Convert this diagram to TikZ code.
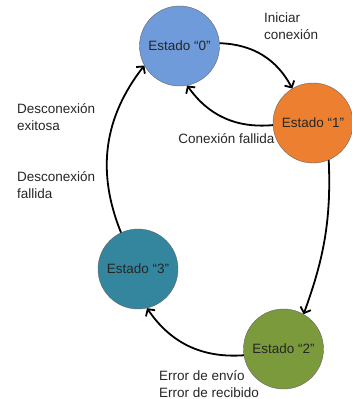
\documentclass[tikz,border=0pt]{standalone}
\usepackage{fontspec}
\setmainfont{Liberation Sans}
\usetikzlibrary{arrows.meta}

\definecolor{azul}{RGB}{111,155,218}
\definecolor{naranja}{RGB}{237,128,48}
\definecolor{verde}{RGB}{122,154,60}
\definecolor{turquesa}{RGB}{51,134,158}

\begin{document}
\begin{tikzpicture}[x=1pt,y=-1pt,
        estado/.style={circle,draw=black!60,minimum size=80pt,inner sep=0pt,
            font=\fontsize{13.5}{16}\selectfont,text=black!85},
        etiqueta/.style={align=left,inner sep=0pt,
            font=\fontsize{13.5}{17}\selectfont,text=black!85},
        flecha/.style={-{Straight Barb[length=5pt,width=11pt]},line width=1.8pt,bend left=30}]
    \useasboundingbox (0,0) rectangle (351,399);
    \node[estado,fill=azul] (e0) at (179.5,46) {Estado “0”};
    \node[estado,fill=naranja] (e1) at (313,123) {Estado “1”};
    \node[estado,fill=verde] (e2) at (283.5,349) {Estado “2”};
    \node[estado,fill=turquesa] (e3) at (138,269) {Estado “3”};

    \draw[flecha] (e0.4) to (e1.121);
    \draw[flecha] (e1.183) to (e0.-79);
    \draw[flecha] (e1.-67) .. controls +(3,65) and +(18,-50) .. (e2.60);
    \draw[flecha] (e2.189) to (e3.-77);
    \draw[flecha] (e3.115) to (e0.209);

    \node[etiqueta,anchor=north west] (iniciar) at (264,13) {Iniciar\\conexión};
    \node[etiqueta] (fallida) at (226.5,139) {Conexión fallida};
    \node[etiqueta,anchor=west] (exitosa) at (17,117.5) {Desconexión\\exitosa};
    \node[etiqueta,anchor=west] (descfallida) at (17,185.5) {Desconexión\\fallida};
    \node[etiqueta,anchor=west] (errores) at (159,384) {Error de envío\\Error de recibido};
\end{tikzpicture}
\end{document}
